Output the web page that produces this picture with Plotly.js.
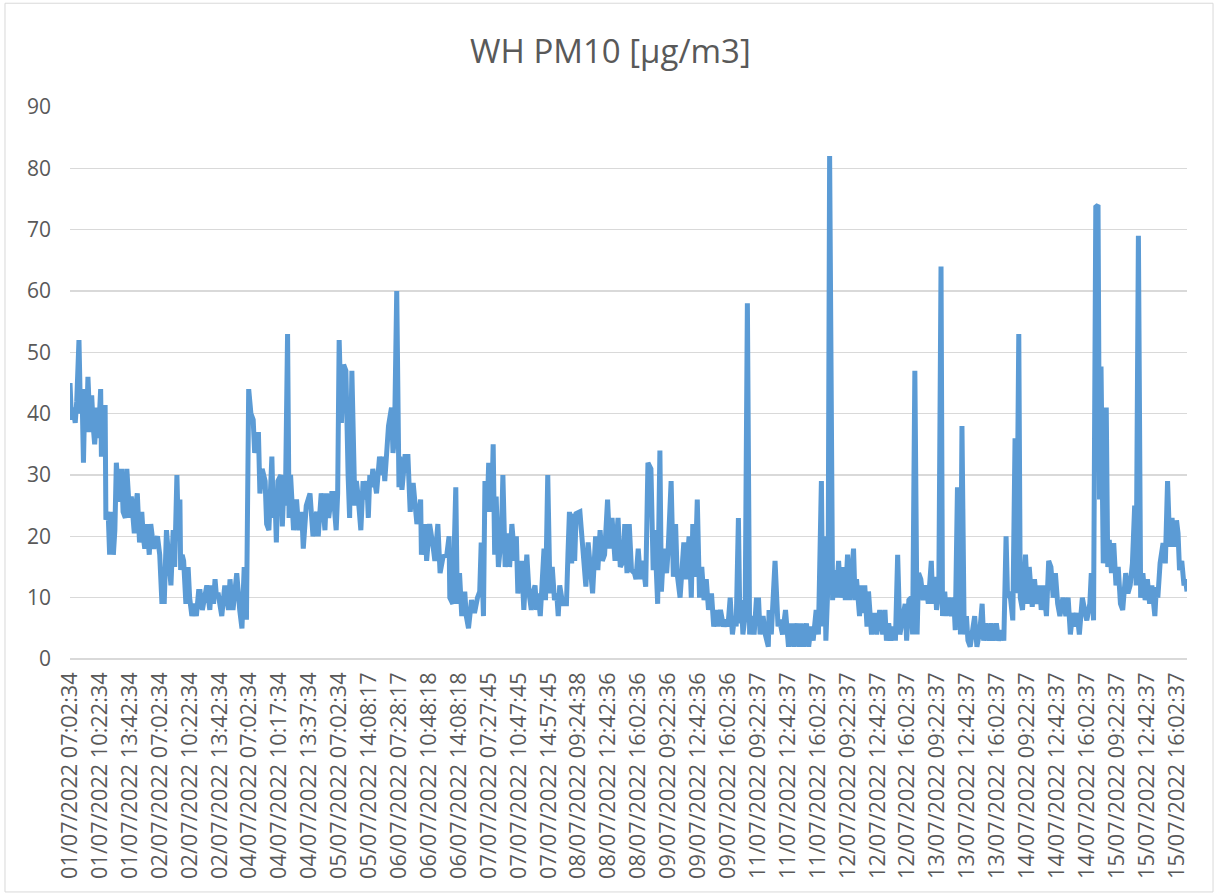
<!DOCTYPE html>
<html>
<head>
<meta charset="utf-8">
<script src="https://cdn.plot.ly/plotly-3.0.1.min.js"></script>
<style>html,body{margin:0;padding:0;background:#fff;}#chart{width:1216px;height:895px;}</style>
</head>
<body>
<div id="chart"></div>
<script>
// Sample number (5-minute readings, category order) and PM10 value
const sampleNo = [
0,2,4,7,9,12,14,16,18,20,22,24,27,29,31,33,36,38,41,42,45,47,48,51,53,56,58,60,62,65,67,69,71,74,76,78,80,82,86,88,90,93,96,98,100,103,106,108,110,112,117,120,123,125,126,129,133,135,138,140,143,145,147,148,150,152,155,158,160,163,166,169,172,174,177,180,183,187,189,192,194,196,198,203,205,207,212,214,216,218,223,225,227,230,233,236,239,
242,245,247,252,254,257,261,263,266,270,272,274,276,278,282,284,286,288,291,293,295,299,301,303,306,310,312,314,316,321,325,328,330,332,336,339,341,343,346,350,352,356,358,360,363,366,369,372,374,377,379,381,383,385,389,392,394,397,399,401,403,405,410,414,417,419,421,423,426,430,432,434,437,440,441,444,448,452,455,459,464,467,469,470,475,477,481,486,
488,492,495,499,504,507,508,512,516,518,521,524,528,530,533,537,541,545,548,550,553,555,558,560,564,566,568,570,573,577,579,582,586,588,591,595,597,599,604,607,611,614,617,619,622,624,626,629,632,634,636,639,642,645,648,651,653,655,659,664,666,668,671,673,675,677,682,684,686,690,693,696,699,703,706,709,712,715,719,722,725,729,733,736,740,742,745,748,751,755,757,760,763,766,770,773,
777,780,782,786,789,791,794,798,800,804,807,810,812,816,818,821,824,828,831,833,836,839,842,845,848,851,854,858,861,865,867,870,874,877,880,883,886,889,891,894,896,898,900,903,906,909,911,915,918,921,923,927,930,934,935,938,943,945,947,949,953,957,961,965,968,972,975,978,981,985,988,991,994,998,1001,1005,1007,1009,1011,1014,1016,1020,1022,1025,1028,1031,1035,1037,1040,1043,1045,1048,1050,1052,1056,1058,1060,1063,1066,1068,1072,1076,1079,1083,1087,1090,1092,1095,1098,1102,1104,1107,1110,1114,1117,1119,1122,1125,1127,1130,1133,
1135,1138,1141,1145,1148,1152,1154,1157,1159,1162,1165,1167,1170,1172,1175,1179,1182,1184,1187,1191,1193,1196,1199,1201,1204,1208,1210,1213,1217,1220,1222,1225,1229,1232,1235,1239,1242,1246,1249,1252,1254,1257,1261,1264,1266,1269,1271,1274,1278,1281,1283,1287,1290,1293,1297,1299,1302,1306,1309,1312,1315,1318,1321,1324,1328,1332,1335,1338,1341,1344,1347,1350,1354,1357,1360,1364,1366,1369,1372,1375,1377,1379,1382,1384,1386,1388,1390,1393,1396,1399,1402,1405,1408,1412,1415,1418,1421,1424,1426,1429,1432,1435,1438,1441,1444,1447,1451,1453,1455,1458,1462,1465,1468,1471,1474,1477,1480,1482,1484,1487,1490,1492,1494
];
const pm10 = [
45,39,41,38.5,42,52,40,44,32,44,37,46,37,43,38,35,41,36,44,33,41,41,22.7,24,17,24,17,21,32,26,26,31,24,23,31,26,23,26.5,20.5,25,27,19,24,20,18,22,17,22,19,18,20,17,9,14,9,21,15,12,21,15,30,20,26,14.5,17,16,9,15,10,7,9,7,11,11,8,10,12,8,12,9,13,10,10.8,7,9,12,8,13,10,8,14,9,8,5,15,6.4,44,
40,39,33.6,37,27,31,29,22,21,33,23,27,19,29,30,21.6,28,25,53,23,30,21,23,26,21,24,18,22,25,27,20,23,24,20,27,24,21,27,23,27,27,21,27,52,38.5,48,47,29.8,23,47,33.6,25,29,27,21,29,26,29,23,30,28,31,27,33,30,33,29,34,38,41,33.6,36,60,28,33,27.6,33,33,24,28.7,22,24,26,17,22,16,22,18,
16,22,14,16.7,17,20,10,9,28,9,14,7,11,7,5,9.6,7.5,10,11,19,7,29,24,32,24,35,17,26.5,15,20,30,15,20.5,15,22,16,20,10.7,16,8,17,10.7,8,10.7,12,8,10.7,7,16,18,9.6,30,10.7,15,9.6,10.7,7,12,9,9,17,24,15.6,23.7,16,23.7,24,20.5,16,11.8,19,14,10.7,20,14.5,21,16,17,26,18,23,16,23,15,16,22,14,22,14.5,14,13,18,13,16,11.8,32,
31,14.5,21,9,34,11,18,14,17.7,29,13.4,22,14,10,14,19,13,20,10,22,13.4,26,10,15,9.6,13,8,10.7,5.3,8,5.3,8,5.3,6.4,5.3,10,4,7,5.3,23,5.8,9.6,4,7,58,4,7,4,9.6,9.6,4,7,4,2,8,4,16,8,5.3,6.4,4,8,2,5.8,2,5.8,2,5.8,2,5.8,2,5.3,3,8,4,29,5.3,20,3,13,82,9.6,14.5,10,16,10,15,9.6,17,9.6,14,18,9.6,13,7,12,7.5,12,5.3,11,4,7.5,4,8,4,8,3,5.8,3,5.3,3,17,4,7.5,9,3,9.6,10,4,47,4,
14,13,9.6,12,9,16,9,13.4,8,10.7,64,7,11,7,10,7,10,4.7,28,4,38,4,7,3,2,4.7,7,2,4.7,9,3,5.8,3,5.8,3,5.8,3,4.7,3,20,10,11,6.3,36,10.7,53,10,8,17,9,15,8.5,13,9,12,8,12,7,16,15,10,14,9,7,10,7,10,4,7.5,5.3,7.5,4,10,8,6.3,9,14,6.3,73.7,74,26,47.7,15.6,20.5,41,15,19.4,14,18.9,12,15,9,8,14,10.7,12,15.6,25,12,69,10,14,9.6,13,9,12,7,11.7,10,15.6,18.9,15.6,29,18.3,23,18.3,22.6,20.5,14.5,16,12,13,11
];
// Category labels shown on the axis (every 40th reading)
const tickLabels = [
"01/07/2022 07:02:34","01/07/2022 10:22:34","01/07/2022 13:42:34",
"02/07/2022 07:02:34","02/07/2022 10:22:34","02/07/2022 13:42:34",
"04/07/2022 07:02:34","04/07/2022 10:17:34","04/07/2022 13:37:34",
"05/07/2022 07:02:34","05/07/2022 14:08:17",
"06/07/2022 07:28:17","06/07/2022 10:48:18","06/07/2022 14:08:18",
"07/07/2022 07:27:45","07/07/2022 10:47:45","07/07/2022 14:57:45",
"08/07/2022 09:24:38","08/07/2022 12:42:36","08/07/2022 16:02:36",
"09/07/2022 09:22:36","09/07/2022 12:42:36","09/07/2022 16:02:36",
"11/07/2022 09:22:37","11/07/2022 12:42:37","11/07/2022 16:02:37",
"12/07/2022 09:22:37","12/07/2022 12:42:37","12/07/2022 16:02:37",
"13/07/2022 09:22:37","13/07/2022 12:42:37","13/07/2022 16:02:37",
"14/07/2022 09:22:37","14/07/2022 12:42:37","14/07/2022 16:02:37",
"15/07/2022 09:22:37","15/07/2022 12:42:37","15/07/2022 16:02:37"
];
const samplesPerLabel = 40;
const lastSample = 1494;

const tickVals = tickLabels.map((_, i) => i * samplesPerLabel);
const txt = '#595959';
const fam = '"Open Sans", "Noto Sans", sans-serif';

const trace = {
  x: sampleNo, y: pm10, type: 'scatter', mode: 'lines',
  line: {color: '#5b9bd5', width: 5},
  hoverinfo: 'y', showlegend: false
};

const layout = {
  width: 1216, height: 895,
  margin: {l: 70, r: 29, t: 107, b: 236},
  paper_bgcolor: '#ffffff', plot_bgcolor: '#ffffff',
  title: {text: 'WH PM10 [µg/m3]', font: {family: fam, size: 33, color: txt},
          x: 0.502, xref: 'container', xanchor: 'center',
          y: 0.942, yref: 'container', yanchor: 'middle'},
  xaxis: {
    type: 'linear', range: [0, lastSample],
    tickmode: 'array', tickvals: tickVals, ticktext: tickLabels,
    tickangle: -90, tickfont: {family: fam, size: 21.7, color: txt},
    showgrid: false, zeroline: false, showline: false, ticks: '',
    ticklabelstandoff: 8, fixedrange: true
  },
  yaxis: {
    range: [0, 90], tick0: 0, dtick: 10,
    tickfont: {family: fam, size: 21, color: txt},
    showgrid: true, gridcolor: '#d9d9d9', gridwidth: 1.5,
    zeroline: true, zerolinecolor: '#d9d9d9', zerolinewidth: 1.5,
    showline: false, ticks: '', ticklabelstandoff: 18, fixedrange: true
  },
  shapes: [{
    type: 'rect', xref: 'paper', yref: 'paper',
    x0: -0.0582, x1: 1.0233, y0: -0.422, y1: 1.188,
    line: {color: '#d9d9d9', width: 1}, fillcolor: 'rgba(0,0,0,0)', layer: 'below'
  }]
};

Plotly.newPlot('chart', [trace], layout, {displayModeBar: false, staticPlot: true});
</script>
</body>
</html>
